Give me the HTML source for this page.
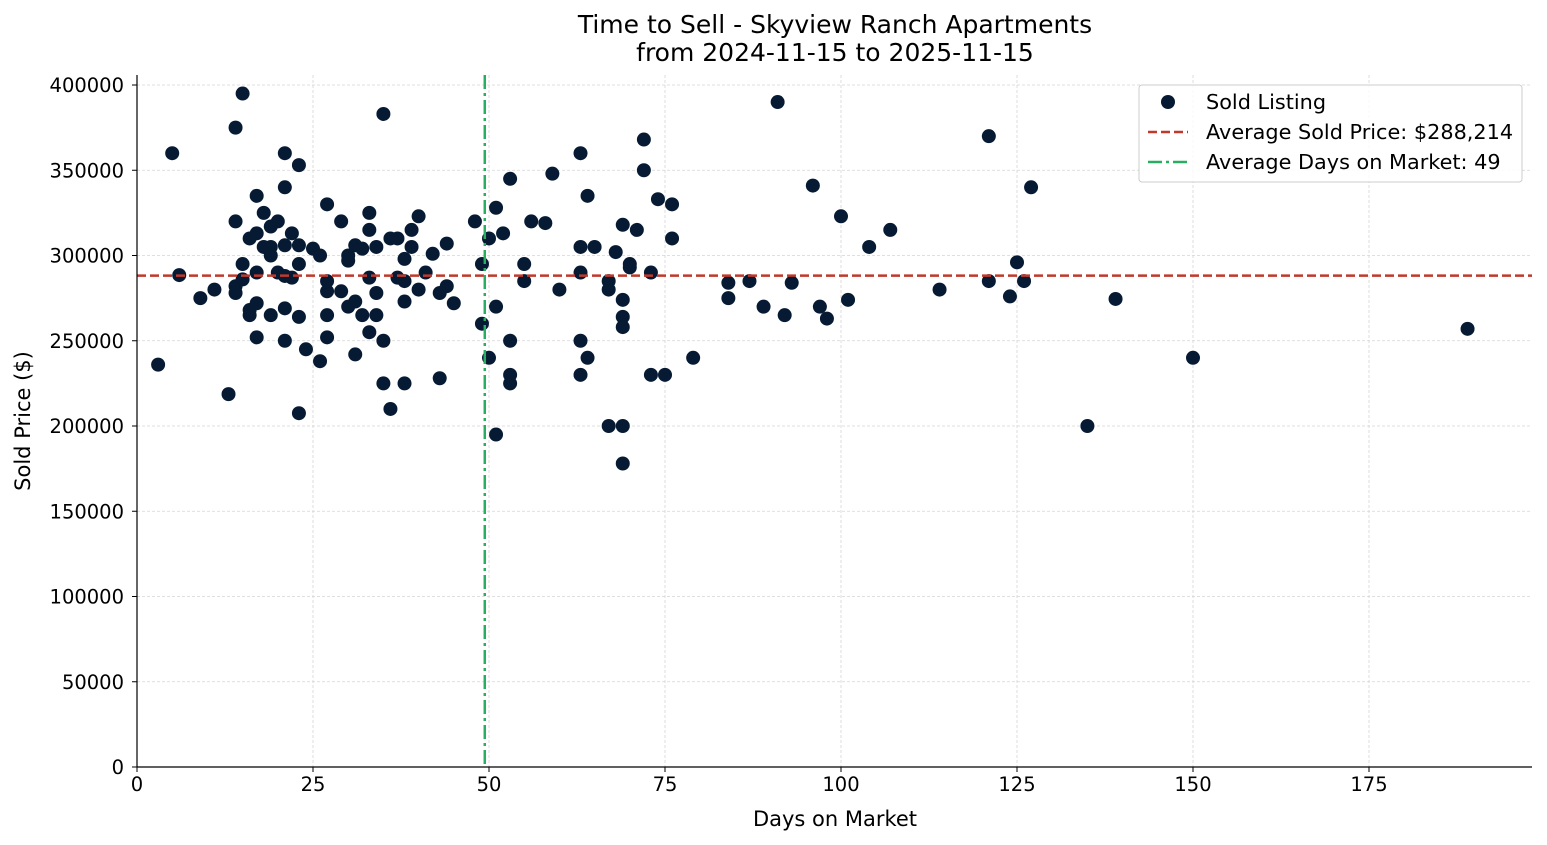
<!DOCTYPE html>
<html><head><meta charset="utf-8"><style>
body{margin:0;background:#fff;}
svg{display:block;font-family:"DejaVu Sans","Liberation Sans",sans-serif;}
</style></head><body>
<svg id="chart" width="1547" height="845"></svg>
<script>
const days=[3,5,6,9,11,13,14,14,14,14,15,15,15,16,16,16,17,17,17,17,17,18,18,19,19,19,19,20,20,21,21,21,21,21,21,22,22,23,23,23,23,23,24,25,26,26,27,27,27,27,27,29,29,30,30,30,31,31,31,32,32,33,33,33,33,34,34,34,35,35,35,36,36,37,37,38,38,38,38,39,39,40,40,41,42,43,43,44,44,45,48,49,49,50,50,51,51,51,52,53,53,53,53,55,55,56,58,59,60,63,63,63,63,63,64,64,65,67,67,67,68,69,69,69,69,69,69,70,70,71,72,72,73,73,74,75,76,76,79,84,84,87,89,91,92,93,96,97,98,100,101,104,107,114,121,121,124,125,126,127,135,139,150,189];
const prices=[236000,360000,288500,275000,280000,218700,375000,320000,282000,278000,395000,295000,286000,310000,268000,265000,335000,313000,290000,272000,252000,325000,305000,317000,305000,300000,265000,320000,290000,360000,340000,306000,288000,269000,250000,313000,287000,353000,306000,295000,264000,207500,245000,304000,300000,238000,330000,285000,279000,265000,252000,320000,279000,300000,297000,270000,306000,273000,242000,304000,265000,325000,315000,287000,255000,305000,278000,265000,383000,250000,225000,310000,210000,310000,287000,285000,298000,273000,225000,315000,305000,280000,323000,290000,301000,278000,228000,307000,282000,272000,320000,295000,260000,310000,240000,328000,270000,195000,313000,345000,250000,230000,225000,295000,285000,320000,319000,348000,280000,360000,305000,290000,250000,230000,335000,240000,305000,285000,280000,200000,302000,318000,274000,264000,258000,200000,178000,295000,293000,315000,368000,350000,290000,230000,333000,230000,330000,310000,240000,284000,275000,285000,270000,390000,265000,284000,341000,270000,263000,323000,274000,305000,315000,280000,370000,285000,276000,296000,285000,340000,200000,274500,240000,257000];
const xTicks=[0,25,50,75,100,125,150,175];
const yTicks=[0,50000,100000,150000,200000,250000,300000,350000,400000];
const avgPrice=288214;
const avgDays=49.4;

const L=137,R=1532,T=75,B=767;
const xs=v=>L+v*7.04;
const ys=v=>B-v*682/400000;
const svg=document.getElementById('chart');
const NS='http://www.w3.org/2000/svg';
function mk(tag,attrs,parent){const e=document.createElementNS(NS,tag);for(const k in attrs)e.setAttribute(k,attrs[k]);(parent||svg).appendChild(e);return e;}
function txt(s,attrs){const e=mk('text',attrs);e.textContent=s;return e;}

xTicks.forEach(t=>{const g=mk('line',{x1:xs(t),x2:xs(t),y1:T,y2:B,stroke:'#d5d5d5','stroke-width':0.8,'stroke-dasharray':'3,2'});

});
yTicks.forEach(t=>{const g=mk('line',{x1:L,x2:R,y1:ys(t),y2:ys(t),stroke:'#d5d5d5','stroke-width':0.8,'stroke-dasharray':'3,2'});

});

days.forEach((d,i)=>{const c=mk('circle',{cx:xs(d),cy:ys(prices[i]),r:7,fill:'#061a33'});

});

const ap=mk('line',{x1:L,x2:R,y1:ys(avgPrice),y2:ys(avgPrice),stroke:'#c0392b','stroke-width':2.5,'stroke-dasharray':'9,4'});


const ad=mk('line',{x1:xs(avgDays),x2:xs(avgDays),y1:T,y2:B,stroke:'#27ae60','stroke-width':2.5,'stroke-dasharray':'14,4,3,4'});



const sl=mk('line',{x1:L,x2:L,y1:T,y2:B,stroke:'#000','stroke-width':1.2});


const sb=mk('line',{x1:L,x2:R,y1:B,y2:B,stroke:'#000','stroke-width':1.2});



xTicks.forEach(t=>{mk('line',{x1:xs(t),x2:xs(t),y1:B,y2:B+5,stroke:'#000'});
const e=txt(String(t),{x:xs(t),y:B+24,'text-anchor':'middle','font-size':'19.5px',fill:'#000'});

});
yTicks.forEach(t=>{mk('line',{x1:L-5,x2:L,y1:ys(t),y2:ys(t),stroke:'#000'});
const e=txt(String(t),{x:L-13,y:ys(t)+7,'text-anchor':'end','font-size':'19.5px',fill:'#000'});

});

let e=txt('Time to Sell - Skyview Ranch Apartments',{x:835,y:33,'text-anchor':'middle','font-size':'25px'});


e=txt('from 2024-11-15 to 2025-11-15',{x:835,y:61,'text-anchor':'middle','font-size':'25px'});


e=txt('Days on Market',{x:835,y:826,'text-anchor':'middle','font-size':'21px'});


e=txt('Sold Price ($)',{x:30,y:421,'text-anchor':'middle','font-size':'21px',transform:'rotate(-90 30 421)'});



const lg=mk('rect',{x:1139,y:85,width:383,height:97,rx:3,fill:'#fff','fill-opacity':0.85,stroke:'#ccc'});


mk('circle',{cx:1168,cy:102,r:7,fill:'#061a33'});
mk('line',{x1:1148,x2:1188,y1:132,y2:132,stroke:'#c0392b','stroke-width':2.5,'stroke-dasharray':'9,4'});
mk('line',{x1:1148,x2:1188,y1:162,y2:162,stroke:'#27ae60','stroke-width':2.5,'stroke-dasharray':'14,4,3,4'});
[['Sold Listing',109],['Average Sold Price: $288,214',139],['Average Days on Market: 49',169]].forEach(([s,y])=>{
const t=txt(s,{x:1206,y:y,'font-size':'20.8px'});

});
</script>
</body></html>
